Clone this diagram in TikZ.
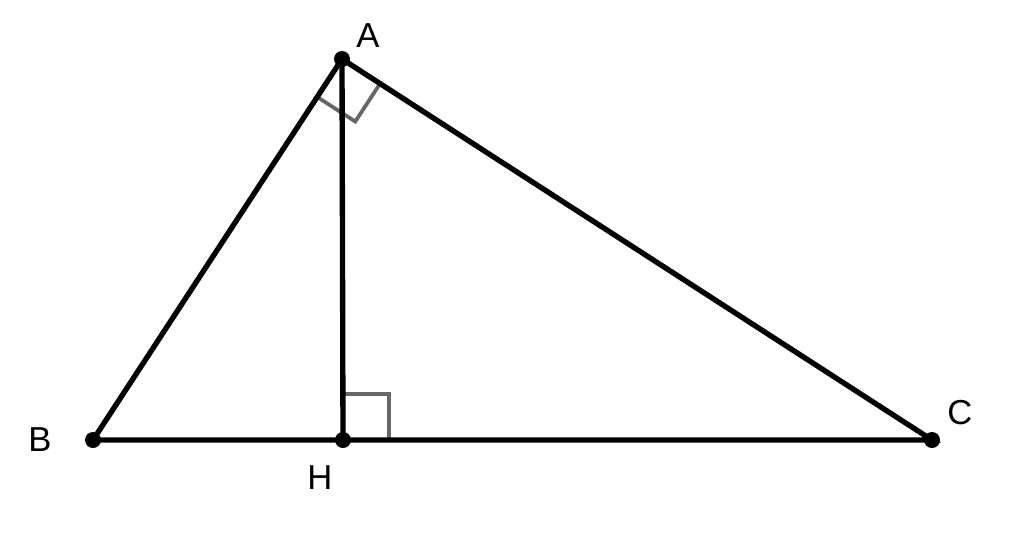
\documentclass[tikz,border=0pt]{standalone}
\usepackage{fontspec}
\setmainfont{Liberation Sans}
\usetikzlibrary{calc}
\begin{document}
\begin{tikzpicture}[x=0.75pt,y=-0.75pt,
  seg/.style={line width=4pt,line cap=round},
  rmark/.style={line width=2.8pt,draw=black!60},
  pt/.style={circle,fill=black,inner sep=0pt,minimum size=12pt},
  lbl/.style={font=\fontsize{26}{30}\selectfont,inner sep=0pt}]
\useasboundingbox (0,0) rectangle (1024,532);
\coordinate (A) at (342,59);
\coordinate (B) at (93,440);
\coordinate (C) at (932,440);
\coordinate (H) at (343,440);
% right angle marks
\coordinate (P1) at ($(A)!34pt!(B)$);
\coordinate (P2) at ($(A)!34pt!(C)$);
\draw[rmark] (P1) -- ($(P1)+(P2)-(A)$) -- (P2);
\draw[rmark] ($(H)+(0,-46)$) -- ($(H)+(46,-46)$) -- ($(H)+(46,0)$);
% sides
\draw[seg] (A) -- (B) -- (C) -- cycle;
\draw[seg] (A) -- (H);
\node[pt] (a) at (A) {};
\node[pt] (b) at (B) {};
\node[pt] (c) at (C) {};
\node[pt] (h) at (H) {};
\node[lbl] (la) at (368,36) {A};
\node[lbl] (lb) at (40,440) {B};
\node[lbl] (lc) at (960,413) {C};
\node[lbl] (lh) at (320,478) {H};
\end{tikzpicture}
\end{document}
